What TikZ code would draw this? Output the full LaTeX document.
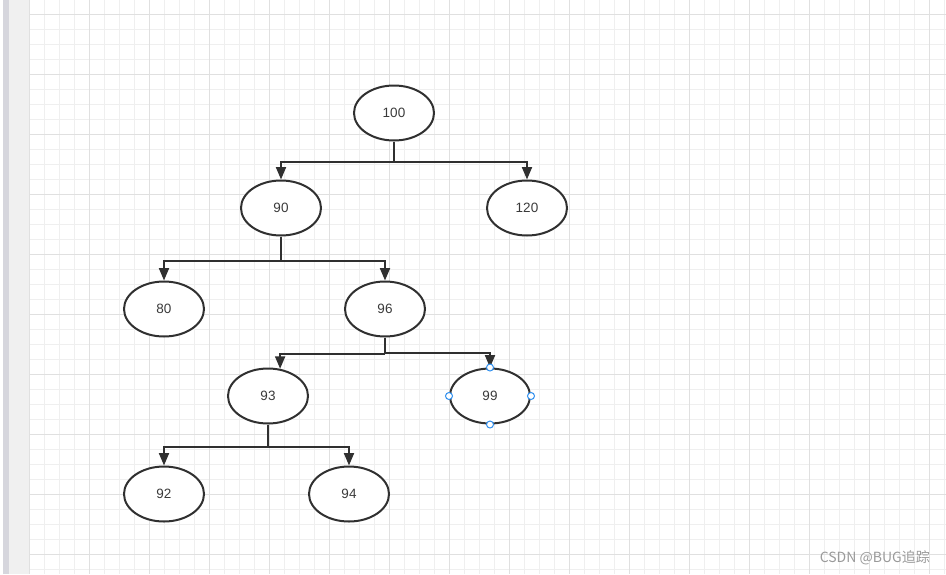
\documentclass[tikz,border=0pt]{standalone}
\usepackage{fontspec}
\setmainfont{Liberation Sans}
\newfontfamily\cjk{Noto Sans CJK SC}
\usetikzlibrary{arrows.meta,shapes.geometric}
\definecolor{linec}{HTML}{303030}
\definecolor{txtc}{HTML}{3A3A3A}
\definecolor{gridminor}{HTML}{EFEFEF}
\definecolor{gridmajor}{HTML}{E0E0E0}
\definecolor{barc}{HTML}{D6D6DD}
\definecolor{panelc}{HTML}{F0F0F0}
\definecolor{handlec}{HTML}{2F8FEF}
\definecolor{wmc}{HTML}{9A9A9A}
\tikzset{
  treenode/.style={ellipse, draw=linec, line width=2pt, fill=white, minimum width=80pt, minimum height=55pt, inner sep=0pt, text=txtc, font=\fontsize{13.5}{15}\selectfont},
  conn/.style={draw=linec, line width=2pt},
  arr/.style={conn, -{Triangle[length=12.5pt,width=10pt]}},
  handle/.style={circle, draw=handlec, fill=white, line width=1pt, minimum size=7pt, inner sep=0pt},
  minorline/.style={draw=gridminor, line width=1pt},
  majorline/.style={draw=gridmajor, line width=1pt}
}
\begin{document}
\begin{tikzpicture}[x=1pt,y=-1pt]
\useasboundingbox (0,0) rectangle (946,574);
\fill[white] (0,0) rectangle (946,574);
% grid
\foreach \i in {0,...,61} { \draw[minorline] ({29.5+15*\i},0) -- ({29.5+15*\i},574); }
\foreach \j in {-1,...,38} { \draw[minorline] (29.5,{14.3+15*\j}) -- (946,{14.3+15*\j}); }
\foreach \i in {0,...,15} { \draw[majorline] ({29.5+60*\i},0) -- ({29.5+60*\i},574); }
\foreach \j in {0,...,9} { \draw[majorline] (29.5,{14.3+60*\j}) -- (946,{14.3+60*\j}); }
% left panel
\fill[panelc] (8.7,0) rectangle (29,574);
\fill[barc] (2.7,0) rectangle (8.7,574);
% nodes
\node[treenode] (n100) at (394,113) {100};
\node[treenode] (n90) at (281,208) {90};
\node[treenode] (n120) at (527,208) {120};
\node[treenode] (n80) at (164,309) {80};
\node[treenode] (n96) at (385,309) {96};
\node[treenode] (n93) at (268,396) {93};
\node[treenode] (n99) at (490,396) {99};
\node[treenode] (n92) at (164,494) {92};
\node[treenode] (n94) at (349,494) {94};
% connectors
\draw[conn] (n100.south) -- ++(0,20) coordinate (b1);
\draw[arr] (b1) -| (n90.north);
\draw[arr] (b1) -| (n120.north);
\draw[conn] (n90.south) -- ++(0,24) coordinate (b2);
\draw[arr] (b2) -| (n80.north);
\draw[arr] (b2) -| (n96.north);
\draw[conn] (n96.south) -- ++(0,16.5) coordinate (b3);
\draw[arr] (b3) -| (n93.66.4);
\draw[arr] (b3) ++(0,-1) -| (n99.north);
\draw[conn] (n93.south) -- ++(0,22) coordinate (b4);
\draw[arr] (b4) -| (n92.north);
\draw[arr] (b4) -| (n94.north);
% selection handles
\node[handle] (h1) at (n99.north) {};
\node[handle] (h2) at (n99.south) {};
\node[handle] (h3) at (n99.east) {};
\node[handle] (h4) at (n99.west) {};
% watermark
\node[anchor=east, inner sep=0pt, text=wmc, font=\cjk\fontsize{14}{16}\selectfont] (wm) at (930,558) {CSDN @BUG追踪};
\end{tikzpicture}
\end{document}
